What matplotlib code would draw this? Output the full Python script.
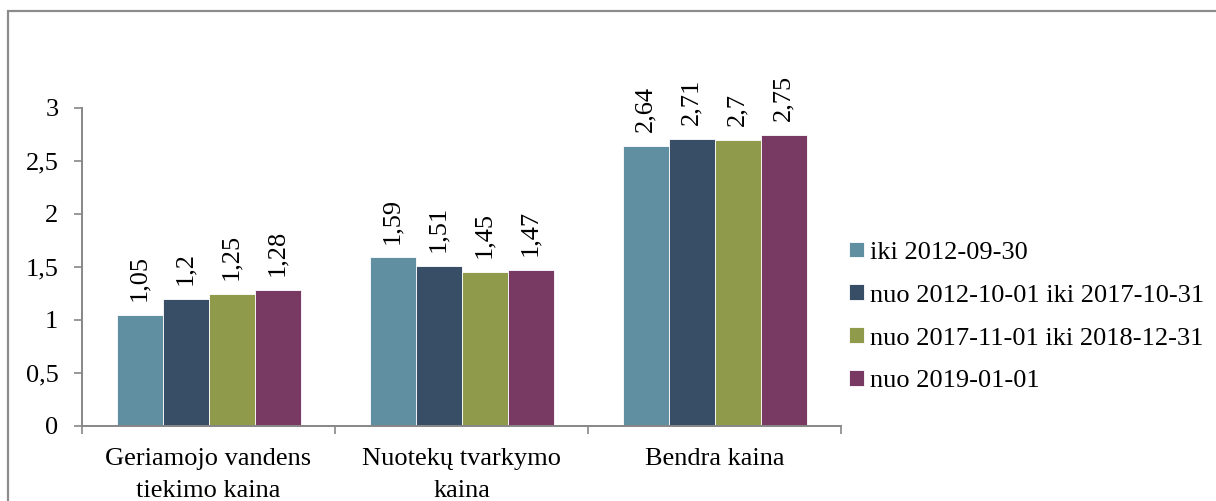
import matplotlib
matplotlib.use("Agg")
import matplotlib.pyplot as plt
import numpy as np
from matplotlib.patches import Rectangle

plt.rcParams['font.family'] = ['Liberation Serif', 'DejaVu Serif']

categories = ["Geriamojo vandens\ntiekimo kaina", "Nuotekų tvarkymo\nkaina", "Bendra kaina"]
series_names = ["iki 2012-09-30", "nuo 2012-10-01 iki 2017-10-31",
                "nuo 2017-11-01 iki 2018-12-31", "nuo 2019-01-01"]
s1 = [1.05, 1.59, 2.64]
s2 = [1.20, 1.51, 2.71]
s3 = [1.25, 1.45, 2.70]
s4 = [1.28, 1.47, 2.75]
series = [s1, s2, s3, s4]
colors = ["#5F8FA1", "#374E66", "#8F9A4B", "#783A62"]
yticks = [0, 0.5, 1, 1.5, 2, 2.5, 3]

W, H = 1216, 501
fig = plt.figure(figsize=(W / 100, H / 100), dpi=100)
ax = fig.add_axes([82 / W, 75 / H, (841 - 82) / W, (426 - 108) / H])

fs = 19
axis_col = "#878787"
x = np.arange(len(categories))
bw = 46 / 253
for i, (vals, c, name) in enumerate(zip(series, colors, series_names)):
    pos = x + (i - 1.5) * bw
    bars = ax.bar(pos, vals, width=bw, color=c, edgecolor="white", linewidth=0.6, label=name)
    for b, v in zip(bars, vals):
        txt = ('%g' % v).replace('.', ',')
        ax.annotate(txt, (b.get_x() + b.get_width() / 2, v), xytext=(0, 10),
                    textcoords='offset points', rotation=90, ha='center', va='bottom',
                    fontsize=fs, annotation_clip=False)

ax.set_xlim(-0.5, len(categories) - 0.5)
ax.set_ylim(0, 3)
ax.set_yticks(yticks)
ax.set_yticklabels([('%g' % t).replace('.', ',') for t in yticks], fontsize=fs)
ax.set_xticks(x)
ax.set_xticklabels(categories, fontsize=fs, linespacing=1.55)
ax.set_xticks(np.arange(len(categories) + 1) - 0.5, minor=True)
ax.tick_params(axis='x', which='major', length=0, pad=16)
ax.tick_params(axis='x', which='minor', length=6, width=1.2, color=axis_col, direction='out')
ax.tick_params(axis='y', length=6, width=1.2, color=axis_col, pad=11)
for sp in ['top', 'right']:
    ax.spines[sp].set_visible(False)
for sp in ['left', 'bottom']:
    ax.spines[sp].set_color(axis_col)
    ax.spines[sp].set_linewidth(1.4)

fig.legend(loc='center left', bbox_to_anchor=(849 / W, (H - 317) / H),
           frameon=False, fontsize=fs, handlelength=0.55, handleheight=0.55,
           handletextpad=0.25, labelspacing=0.78, borderpad=0, borderaxespad=0)

fig.patches.append(Rectangle((8 / W, -0.1), 1.2, (H - 11) / H + 0.1,
                             transform=fig.transFigure, fill=False,
                             edgecolor="#8C8C8C", linewidth=1.6))

fig.savefig("out.png", dpi=100)
